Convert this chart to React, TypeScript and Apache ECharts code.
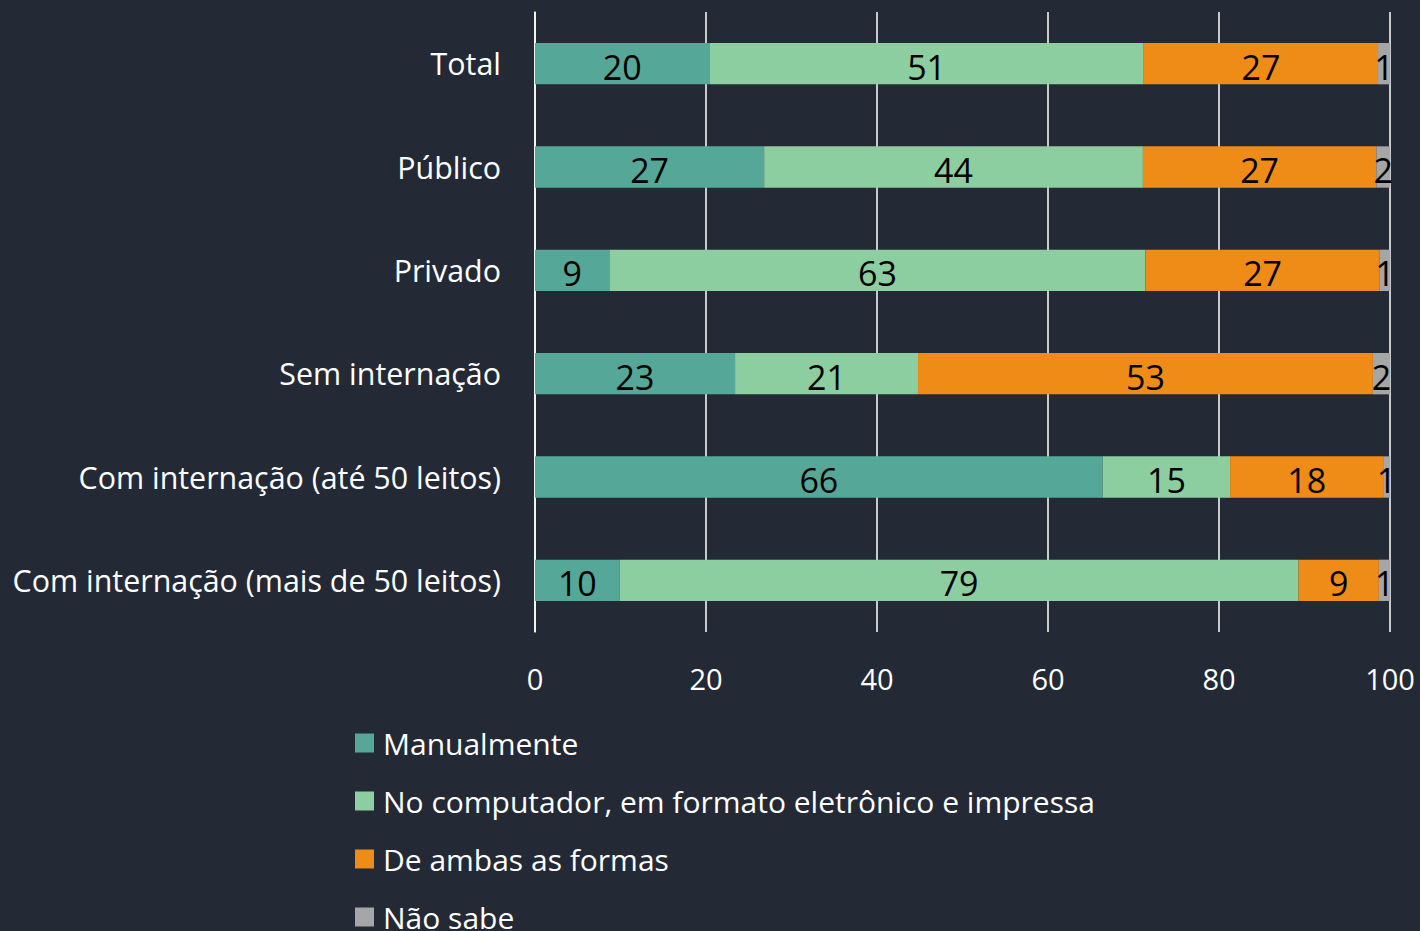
import React, { useEffect, useRef } from "react";
import * as echarts from "echarts";

const categories = [
  "Total",
  "Público",
  "Privado",
  "Sem internação",
  "Com internação (até 50 leitos)",
  "Com internação (mais de 50 leitos)",
];
const manualmente = [20.4, 26.8, 8.7, 23.4, 66.4, 9.9];
const computador = [50.8, 44.3, 62.7, 21.4, 14.9, 79.4];
const ambas = [27.4, 27.3, 27.4, 53.2, 17.9, 9.4];
const naoSabe = [1.4, 1.6, 1.2, 2.0, 0.8, 1.3];
const xTicks = [0, 20, 40, 60, 80, 100];

const seriesNames = [
  "Manualmente",
  "No computador, em formato eletrônico e impressa",
  "De ambas as formas",
  "Não sabe",
];
const colors = ["#55a898", "#8dcea0", "#ef8c17", "#a6a6a6"];

const FONT = "'Open Sans', 'Noto Sans', sans-serif";

export default function App() {
  const ref = useRef<HTMLDivElement>(null);
  useEffect(() => {
    document.body.style.margin = "0";
    if (!ref.current) return;
    const chart = echarts.init(ref.current, undefined, { renderer: "svg" });
    const dataSets = [manualmente, computador, ambas, naoSabe];
    chart.setOption({
      animation: false,
      backgroundColor: "#232a35",
      textStyle: { fontFamily: FONT },
      grid: { left: 535, right: 30, top: 12, bottom: 299, containLabel: false },
      legend: {
        orient: "vertical",
        left: 350,
        top: 723,
        height: 400,
        itemWidth: 19,
        itemHeight: 19,
        itemGap: 28,
        icon: "rect",
        textStyle: { color: "#ffffff", fontSize: 30, fontFamily: FONT, lineHeight: 30, padding: [0, 0, 0, 4] },
        data: seriesNames,
      },
      xAxis: {
        type: "value",
        min: xTicks[0],
        max: xTicks[xTicks.length - 1],
        interval: 20,
        axisLine: { show: false },
        axisTick: { show: false },
        splitLine: { show: true, lineStyle: { color: "#ffffff", width: 1.5 } },
        axisLabel: { color: "#ffffff", fontSize: 29, margin: 32, fontFamily: FONT },
      },
      yAxis: {
        type: "category",
        inverse: true,
        data: categories,
        axisLine: { show: true, lineStyle: { color: "#ffffff", width: 1.5 } },
        axisTick: { show: false },
        axisLabel: { color: "#ffffff", fontSize: 30.4, margin: 34, fontFamily: FONT },
      },
      series: dataSets.map((d, i) => ({
        name: seriesNames[i],
        type: "bar",
        stack: "total",
        barWidth: "40%",
        data: d,
        itemStyle: { color: colors[i] },
        label: {
          show: true,
          position: "inside",
          color: "#000000",
          fontSize: 34,
          fontFamily: FONT,
          offset: [0, 3],
          formatter: (p: any) => String(Math.round(p.value)),
        },
        z: 3,
      })),
    });
    return () => chart.dispose();
  }, []);
  return <div ref={ref} style={{ width: 1420, height: 931 }} />;
}
